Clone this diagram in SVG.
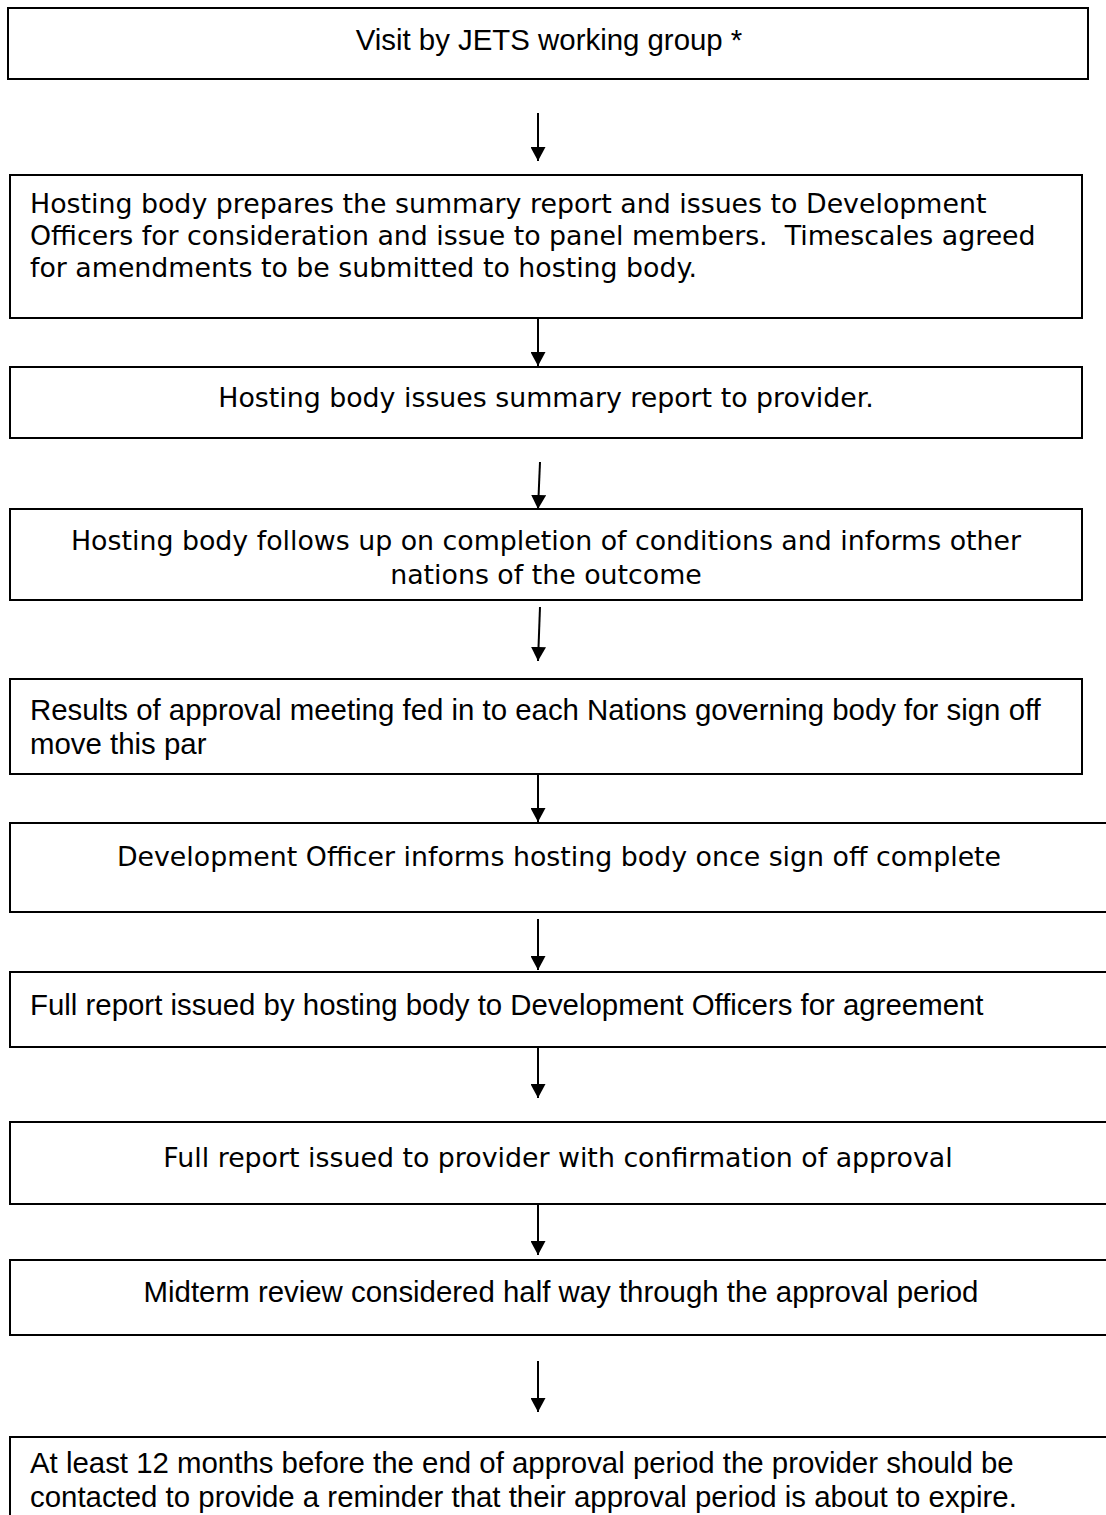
<svg xmlns="http://www.w3.org/2000/svg" width="1106" height="1515" viewBox="0 0 1106 1515">
<style>
.box{fill:#fff;stroke:#000;stroke-width:2}
.a{font-family:"Liberation Sans",Arial,sans-serif;font-size:29.4px;fill:#000}
.v{font-family:"DejaVu Sans",Verdana,sans-serif;font-size:26.8px;fill:#000}
.c{text-anchor:middle}
.conn line{stroke:#000;stroke-width:2}
</style>
<defs>
<marker id="ah" viewBox="0 0 14 15" refX="14" refY="7.5" markerWidth="14" markerHeight="15" markerUnits="userSpaceOnUse" orient="auto">
<path d="M0,0 L14,7.5 L0,15 Z" fill="#000"/>
</marker>
</defs>
<rect width="1106" height="1515" fill="#fff"/>
<g id="n1"><rect class="box" x="8" y="8" width="1080" height="71"/><text class="a c" x="549" y="50">Visit by JETS working group *</text></g>
<g id="n2"><rect class="box" x="10" y="175" width="1072" height="143"/>
<text class="v" x="30" y="213">Hosting body prepares the summary report and issues to Development</text>
<text class="v" x="30" y="245" xml:space="preserve">Officers for consideration and issue to panel members.  Timescales agreed</text>
<text class="v" x="30" y="277">for amendments to be submitted to hosting body.</text></g>
<g id="n3"><rect class="box" x="10" y="367" width="1072" height="71"/><text class="v c" x="546" y="407">Hosting body issues summary report to provider.</text></g>
<g id="n4"><rect class="box" x="10" y="509" width="1072" height="91"/>
<text class="v c" x="546" y="550">Hosting body follows up on completion of conditions and informs other</text>
<text class="v c" x="546" y="584">nations of the outcome</text></g>
<g id="n5"><rect class="box" x="10" y="679" width="1072" height="95"/>
<text class="a" x="30" y="720">Results of approval meeting fed in to each Nations governing body for sign off</text>
<text class="a" x="30" y="754">move this par</text></g>
<g id="n6"><rect class="box" x="10" y="823" width="1100" height="89"/><text class="v c" x="559" y="866">Development Officer informs hosting body once sign off complete</text></g>
<g id="n7"><rect class="box" x="10" y="972" width="1100" height="75"/><text class="a" x="30" y="1015">Full report issued by hosting body to Development Officers for agreement</text></g>
<g id="n8"><rect class="box" x="10" y="1122" width="1100" height="82"/><text class="v c" x="558" y="1167">Full report issued to provider with confirmation of approval</text></g>
<g id="n9"><rect class="box" x="10" y="1260" width="1100" height="75"/><text class="a c" x="561" y="1302">Midterm review considered half way through the approval period</text></g>
<g id="n10"><rect class="box" x="10" y="1437" width="1100" height="100"/>
<text class="a" x="30" y="1473">At least 12 months before the end of approval period the provider should be</text>
<text class="a" x="30" y="1507">contacted to provide a reminder that their approval period is about to expire.</text></g>
<g id="connectors" class="conn">
<line x1="538" y1="113" x2="538" y2="161" marker-end="url(#ah)"/>
<line x1="538" y1="318" x2="538" y2="366" marker-end="url(#ah)"/>
<line x1="540" y1="462" x2="538" y2="509" marker-end="url(#ah)"/>
<line x1="540" y1="607" x2="538" y2="661" marker-end="url(#ah)"/>
<line x1="538" y1="774" x2="538" y2="822" marker-end="url(#ah)"/>
<line x1="538" y1="919" x2="538" y2="970" marker-end="url(#ah)"/>
<line x1="538" y1="1047" x2="538" y2="1098" marker-end="url(#ah)"/>
<line x1="538" y1="1204" x2="538" y2="1255" marker-end="url(#ah)"/>
<line x1="538" y1="1361" x2="538" y2="1412" marker-end="url(#ah)"/>
</g>
</svg>
